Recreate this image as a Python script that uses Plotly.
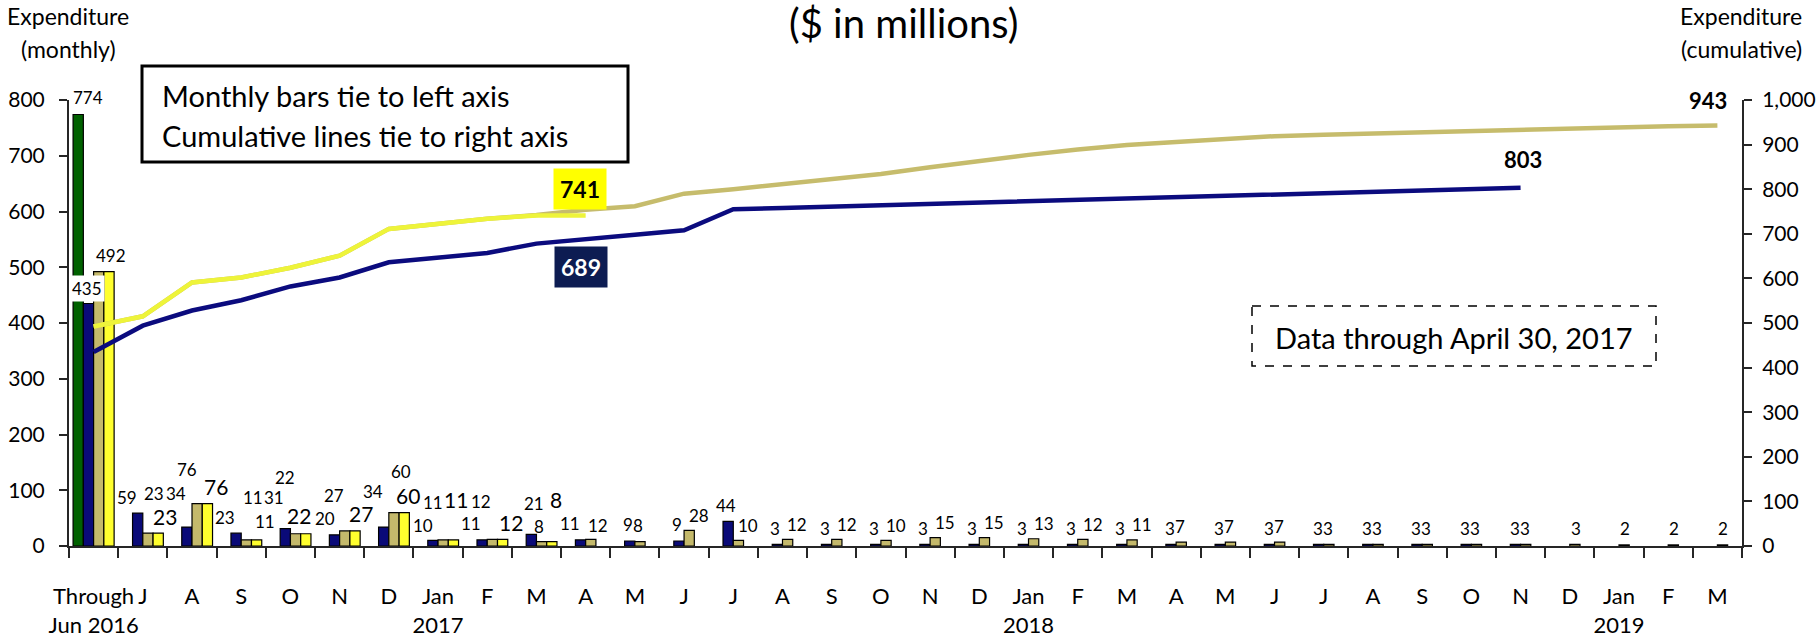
import plotly.graph_objects as go
import pandas as pd

# ---------------- data ----------------
periods = pd.period_range("2016-06", "2019-03", freq="M")
cat_keys = [str(p) for p in periods]          # unique category keys
tick_labels = ["Through<br>Jun 2016", "J", "A", "S", "O", "N", "D",
               "Jan<br>2017", "F", "M", "A", "M", "J", "J", "A", "S", "O", "N", "D",
               "Jan<br>2018", "F", "M", "A", "M", "J", "J", "A", "S", "O", "N", "D",
               "Jan<br>2019", "F", "M"]

green_monthly = [774]
navy_monthly = [435, 59, 34, 23, 31, 20, 34, 10, 11, 21, 11, 9, 9, 44,
                3, 3, 3, 3, 3, 3, 3, 3, 3, 3, 3, 3, 3, 3, 3, 3]
khaki_monthly = [492, 23, 76, 11, 22, 27, 60, 11, 12, 8, 12, 8, 28, 10,
                 12, 12, 10, 15, 15, 13, 12, 11, 7, 7, 7, 3, 3, 3, 3, 3, 3, 2, 2, 2]
yellow_monthly = [492, 23, 76, 11, 22, 27, 60, 11, 12, 8]

navy_cum = [435, 494, 528, 551, 582, 602, 636, 646, 657, 678, 689, 698, 708, 755,
            758, 761, 764, 767, 770, 773, 776, 779, 782, 785, 788, 791, 794, 797, 800, 803]
khaki_cum = [492, 515, 591, 602, 624, 651, 711, 722, 734, 742, 754, 762, 790, 800,
             812, 824, 834, 849, 864, 877, 889, 899, 906, 913, 919, 922, 925, 928,
             931, 934, 937, 939, 941, 943]
yellow_cum = [492, 515, 591, 602, 624, 651, 711, 722, 734, 741, 741]

# ---------------- styles ----------------
FONT = "Lato"
C_GREEN = "#006100"
C_NAVY = "#0A0A78"
C_KHAKI = "#C4B96B"
C_YELLOW = "#FFFF2E"
C_NAVY_LINE = "#0B0B7E"
C_KHAKI_LINE = "#C6BC6C"
C_YELLOW_LINE = "#EEF43A"

# plot area in pixels
PL, PR, PT, PB = 69, 1742, 100, 546
W, H = 1820, 640


def pxx(px):
    return (px - PL) / (PR - PL)


def pxy(py):
    return (PB - py) / (PB - PT)


# label offsets (pixels, relative to category centre / bar top)
navy_dx_first = [-7, -16, -16, -16, -16, -15, -16, -15, -16, -2, -16]
navy_dy_first = [15, 16, 34, 16, 31, 16, 36, 15, 16, 31, 16]
khaki_dx_first = [None, 11, -5, 12, -5, -6, 12, -5, -6, 3, 12]
khaki_dy_first = [None, 40, 34, 42, 56, 35, 41, 37, 38, 15, 14]
yellow_dx = [17, 22, 24, 24, 9, 21, 19, 18, 24, 20]
yellow_dy = [16, 17, 17, 18, 18, 17, 17, 40, 17, 42]
yellow_fs = [17, 21, 21, 17, 21, 21, 21, 21, 21, 21]
LBL_FS = 17

fig = go.Figure()

bar_line = dict(color="#000000", width=1.2)
fig.add_trace(go.Bar(x=cat_keys[:len(green_monthly)], y=green_monthly,
                     marker=dict(color=C_GREEN, line=bar_line), name="green"))
fig.add_trace(go.Bar(x=cat_keys[:len(navy_monthly)], y=navy_monthly,
                     marker=dict(color=C_NAVY, line=bar_line), name="navy"))
fig.add_trace(go.Bar(x=cat_keys[:len(khaki_monthly)], y=khaki_monthly,
                     marker=dict(color=C_KHAKI, line=bar_line), name="khaki"))
fig.add_trace(go.Bar(x=cat_keys[:len(yellow_monthly)], y=yellow_monthly,
                     marker=dict(color=C_YELLOW, line=bar_line), name="yellow"))

fig.add_trace(go.Scatter(x=cat_keys[:len(khaki_cum)], y=khaki_cum, yaxis="y2",
                         mode="lines", line=dict(color=C_KHAKI_LINE, width=4.5)))
fig.add_trace(go.Scatter(x=cat_keys[:len(yellow_cum)], y=yellow_cum, yaxis="y2",
                         mode="lines", line=dict(color=C_YELLOW_LINE, width=4.5)))
fig.add_trace(go.Scatter(x=cat_keys[:len(navy_cum)], y=navy_cum, yaxis="y2",
                         mode="lines", line=dict(color=C_NAVY_LINE, width=4.5)))

ann = []


def lbl(x, y, text, dx, dy, size=LBL_FS, **kw):
    ann.append(dict(x=x, y=y, xref="x", yref="y", text=text, showarrow=False,
                    xanchor="center", yanchor="middle", xshift=dx, yshift=dy,
                    font=dict(family=FONT, size=size, color="#000"), **kw))


# green label
lbl(cat_keys[0], green_monthly[0], str(green_monthly[0]), -6, 17)

# navy labels
for i, v in enumerate(navy_monthly):
    if i < len(navy_dx_first):
        dx, dy = navy_dx_first[i], navy_dy_first[i]
    elif i <= 21:
        dx, dy = -7, 16
    else:
        dx, dy = -6, 16
    extra = {}
    if i == 0:
        extra = dict(bgcolor="#FFFFFF", borderpad=2)
    lbl(cat_keys[i], v, str(v), dx, dy, **extra)

# khaki labels
for i, v in enumerate(khaki_monthly):
    if i == 0:
        continue
    if i < len(khaki_dx_first):
        dx, dy = khaki_dx_first[i], khaki_dy_first[i]
    elif i == 11:
        dx, dy = 3, 16
    elif i <= 21:
        dx, dy = 15, 15
    elif i <= 29:
        dx, dy = 4, 16
    else:
        dx, dy = 6, 16
    lbl(cat_keys[i], v, str(v), dx, dy)

# yellow labels
for i, v in enumerate(yellow_monthly):
    lbl(cat_keys[i], v, str(v), yellow_dx[i], yellow_dy[i], size=yellow_fs[i])

# end-of-line labels (right axis)
i_y = len(yellow_cum) - 1
ann.append(dict(x=cat_keys[i_y], y=yellow_cum[-1], xref="x", yref="y2",
                text="<b>%d</b>" % yellow_cum[-1], showarrow=False,
                xanchor="center", yanchor="middle", xshift=-6, yshift=27,
                bgcolor="#FFFF00", borderpad=6,
                font=dict(family=FONT, size=23, color="#000")))
i_n = len(navy_cum) - 1
ann.append(dict(x=cat_keys[10], y=navy_cum[10], xref="x", yref="y2",
                text="<b>%d</b>" % navy_cum[10], showarrow=False,
                xanchor="center", yanchor="middle", xshift=-5, yshift=-28,
                bgcolor="#0D1C52", borderpad=6,
                font=dict(family=FONT, size=23, color="#FFFFFF")))
ann.append(dict(x=cat_keys[i_n], y=navy_cum[-1], xref="x", yref="y2",
                text="<b>%d</b>" % navy_cum[-1], showarrow=False,
                xanchor="center", yanchor="middle", xshift=2, yshift=28,
                font=dict(family=FONT, size=22, color="#000")))
i_k = len(khaki_cum) - 1
ann.append(dict(x=cat_keys[i_k], y=khaki_cum[-1], xref="x", yref="y2",
                text="<b>%d</b>" % khaki_cum[-1], showarrow=False,
                xanchor="center", yanchor="middle", xshift=-9, yshift=25,
                font=dict(family=FONT, size=22, color="#000")))


def ptext(px, py, text, size, xanchor="center", yanchor="middle", **kw):
    ann.append(dict(x=pxx(px), y=pxy(py), xref="paper", yref="paper", text=text,
                    showarrow=False, xanchor=xanchor, yanchor=yanchor,
                    font=dict(family=FONT, size=size, color="#000"), **kw))


# axis titles
ptext(68, 16, "Expenditure", 23)
ptext(68, 49, "(monthly)", 23)
ptext(1741, 16, "Expenditure", 23)
ptext(1741, 49, "(cumulative)", 23)

# top title, as high as the page allows
ptext(903, -3, "($ in millions)", 40, yanchor="top")

# notes
ptext(160, 96, "Monthly bars tie to left axis", 29, xanchor="left")
ptext(160, 135, "Cumulative lines tie to right axis", 29, xanchor="left")
ptext(1454, 337, "Data through April 30, 2017", 29)

shapes = [
    dict(type="rect", xref="paper", yref="paper", x0=pxx(142), x1=pxx(628),
         y0=pxy(66), y1=pxy(162), line=dict(color="#000", width=3),
         fillcolor="rgba(0,0,0,0)", layer="above"),
    dict(type="rect", xref="paper", yref="paper", x0=pxx(1252), x1=pxx(1656),
         y0=pxy(306), y1=pxy(366), line=dict(color="#000", width=1.5, dash="dash"),
         fillcolor="rgba(0,0,0,0)", layer="above"),
]

axis_col = "#262626"
fig.update_layout(
    width=W, height=H,
    margin=dict(l=PL, r=W - PR, t=PT, b=H - PB, pad=0, autoexpand=False),
    paper_bgcolor="#FFFFFF", plot_bgcolor="#FFFFFF",
    showlegend=False,
    barmode="group", bargap=0.166, bargroupgap=0,
    font=dict(family=FONT, size=22, color="#000"),
    xaxis=dict(type="category", categoryorder="array", categoryarray=cat_keys,
               tickmode="array", tickvals=cat_keys, ticktext=tick_labels,
               tickson="boundaries", ticks="outside", ticklen=10, tickwidth=1.5,
               tickcolor=axis_col, showline=True, linecolor=axis_col, linewidth=2,
               showgrid=False, range=[-0.5, len(cat_keys) - 0.5],
               tickangle=0, automargin=False,
               tickfont=dict(family=FONT, size=22, color="#000"),
               ticklabelstandoff=30),
    yaxis=dict(range=[0, 800], tickmode="array", tickvals=list(range(0, 801, 100)),
               ticks="outside", ticklen=8, tickwidth=1.5, tickcolor=axis_col,
               showline=True, linecolor=axis_col, linewidth=2, showgrid=False,
               zeroline=False, automargin=False,
               tickfont=dict(family=FONT, size=21, color="#000"),
               ticklabelstandoff=10),
    yaxis2=dict(range=[0, 1000], overlaying="y", side="right", tickmode="array",
                tickvals=list(range(0, 1001, 100)), tickformat=",",
                ticks="outside", ticklen=8, tickwidth=1.5, tickcolor=axis_col,
                showline=True, linecolor=axis_col, linewidth=2, showgrid=False,
                zeroline=False, automargin=False,
                tickfont=dict(family=FONT, size=21, color="#000"),
                ticklabelstandoff=6),
    annotations=ann,
    shapes=shapes,
)

# remove the browser's default 8px page margin so the figure fills the window
fig.write_html("out.html", config={"displayModeBar": False},
               post_script="document.body.style.margin='0px';")
